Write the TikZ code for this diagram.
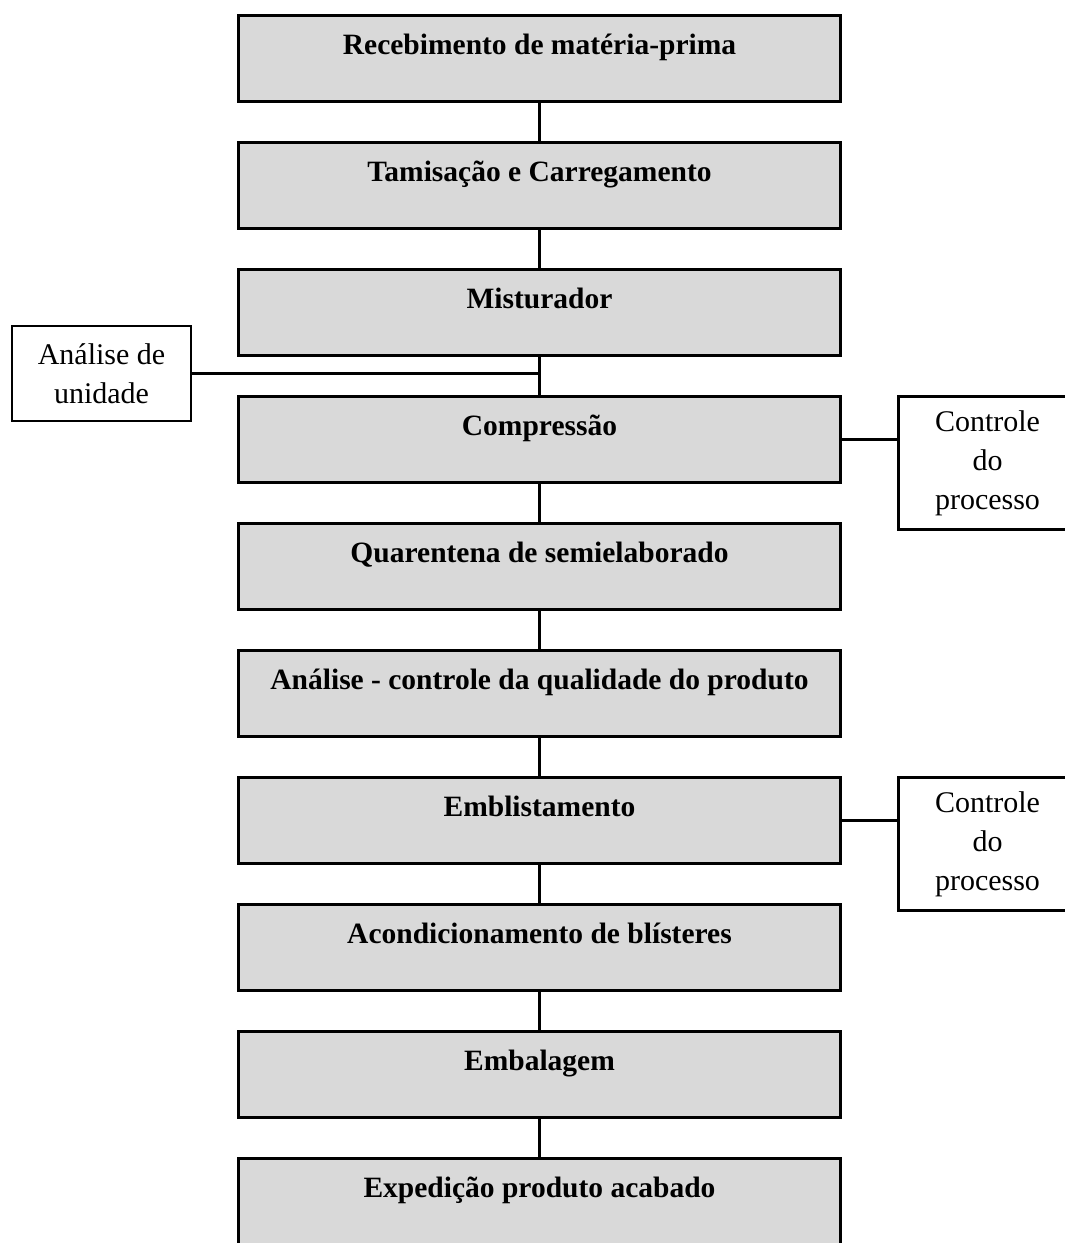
\documentclass[tikz,border=0pt]{standalone}
\usepackage{fontspec}
\setmainfont{Liberation Serif}
\usetikzlibrary{positioning}
\definecolor{boxgray}{HTML}{D9D9D9}
\tikzstyle{etapa} = [draw, line width=2.8pt, fill=boxgray, outer sep=0pt, minimum width=602pt, text height=26pt, text depth=34pt, inner ysep=13pt, font=\fontsize{29.5}{34}\selectfont\bfseries]
\tikzstyle{lateral} = [draw, line width=2.8pt, fill=white, outer sep=0pt, align=center, font=\fontsize{30}{39}\selectfont]
\tikzstyle{liga} = [line width=2.8pt]

\begin{document}
\begin{tikzpicture}[x=1pt,y=-1pt,node distance=41pt]
    \useasboundingbox (0,0) rectangle (1065,1243);
    % etapas do processo
    \node[etapa, anchor=north] (receb) at (539.5,15.5) {Recebimento de matéria-prima};
    \node[etapa, below=of receb] (tamis) {Tamisação e Carregamento};
    \node[etapa, below=of tamis] (mist) {Misturador};
    \node[etapa, below=of mist] (compr) {Compressão};
    \node[etapa, below=of compr] (quar) {Quarentena de semielaborado};
    \node[etapa, below=of quar] (anal) {Análise - controle da qualidade do produto};
    \node[etapa, below=of anal] (embl) {Emblistamento};
    \node[etapa, below=of embl] (acond) {Acondicionamento de blísteres};
    \node[etapa, below=of acond] (emba) {Embalagem};
    \node[etapa, below=of emba] (exped) {Expedição produto acabado};
    \foreach \a/\b in {receb/tamis, tamis/mist, mist/compr, compr/quar, quar/anal, anal/embl, embl/acond, acond/emba, emba/exped}
        \draw[liga] (\a) -- (\b);
    % caixas laterais
    \node[lateral, minimum width=179pt, minimum height=95pt] (unid) at (101.5,373.5) {Análise de\\unidade};
    \draw[liga] (unid.east) -- (unid.east -| mist.south);
    \node[lateral, minimum width=178pt, minimum height=133pt, anchor=north west, below right=0pt and 58pt of compr.north east] (ctrlA) {Controle\\do\\processo};
    \draw[liga] (compr.east) -- (compr.east -| ctrlA.west);
    \node[lateral, minimum width=178pt, minimum height=133pt, anchor=north west, below right=0pt and 58pt of embl.north east] (ctrlB) {Controle\\do\\processo};
    \draw[liga] (embl.east) -- (embl.east -| ctrlB.west);
\end{tikzpicture}
\end{document}
